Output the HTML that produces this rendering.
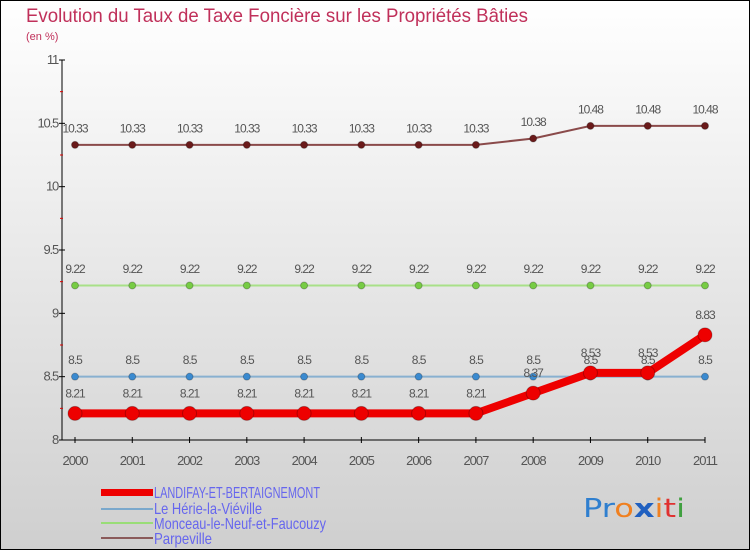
<!DOCTYPE html>
<html><head><meta charset="utf-8"><style>
html,body{margin:0;padding:0}
body{width:750px;height:550px;overflow:hidden;font-family:"Liberation Sans",sans-serif}
</style></head><body>
<svg id="chart" width="750" height="550" xmlns="http://www.w3.org/2000/svg" font-family="Liberation Sans, sans-serif">
<defs><linearGradient id="bg" x1="0" y1="0" x2="0" y2="1"><stop offset="0" stop-color="#ffffff"/><stop offset="1" stop-color="#cfcfcf"/></linearGradient></defs>
<rect x="0.5" y="0.5" width="749" height="549" fill="url(#bg)" stroke="#000"/>
<text x="26" y="22" font-size="19" fill="#c0305a" textLength="502" lengthAdjust="spacingAndGlyphs">Evolution du Taux de Taxe Foncière sur les Propriétés Bâties</text>
<text x="26" y="40" font-size="11" fill="#c0305a">(en %)</text>
<g id="axes"></g>
<g id="series"></g>
<g font-size="16" fill="#6666ee">
<rect x="101" y="489" width="52" height="7" fill="#ee0000"/>
<text x="154" y="498" textLength="166" lengthAdjust="spacingAndGlyphs">LANDIFAY-ET-BERTAIGNEMONT</text>
<line x1="101" y1="509" x2="153" y2="509" stroke="#7aa8cc" stroke-width="2"/>
<text x="154" y="514" textLength="108" lengthAdjust="spacingAndGlyphs">Le Hérie-la-Viéville</text>
<line x1="101" y1="523" x2="153" y2="523" stroke="#99dd77" stroke-width="2"/>
<text x="154" y="529" textLength="172" lengthAdjust="spacingAndGlyphs">Monceau-le-Neuf-et-Faucouzy</text>
<line x1="101" y1="538" x2="153" y2="538" stroke="#8a5a5a" stroke-width="2"/>
<text x="154" y="544" textLength="58" lengthAdjust="spacingAndGlyphs">Parpeville</text>
</g>
<g font-size="26" font-family="DejaVu Sans, sans-serif">
<text x="583" y="517" textLength="102" lengthAdjust="spacingAndGlyphs"><tspan fill="#2f7fcf">Pr</tspan><tspan fill="#f08020">o</tspan><tspan fill="#2060c0" font-weight="bold">x</tspan><tspan fill="#f08020">i</tspan><tspan fill="#e03030">t</tspan><tspan fill="#40a040">i</tspan></text>
</g>
</svg>
<script>
const years=["2000","2001","2002","2003","2004","2005","2006","2007","2008","2009","2010","2011"];
const yTicks=[8,8.5,9,9.5,10,10.5,11];
const yTickLabels=["8","8.5","9","9.5","10","10.5","11"];
const landifay=[8.21,8.21,8.21,8.21,8.21,8.21,8.21,8.21,8.37,8.53,8.53,8.83];
const herie=[8.5,8.5,8.5,8.5,8.5,8.5,8.5,8.5,8.5,8.5,8.5,8.5];
const monceau=[9.22,9.22,9.22,9.22,9.22,9.22,9.22,9.22,9.22,9.22,9.22,9.22];
const parpeville=[10.33,10.33,10.33,10.33,10.33,10.33,10.33,10.33,10.38,10.48,10.48,10.48];
const NS="http://www.w3.org/2000/svg";
function X(i){return 75+i*(630/11);}
function Y(v){return 440-(v-8)*(380/3);}
function mk(tag,attrs,parent,text){const e=document.createElementNS(NS,tag);for(const k in attrs)e.setAttribute(k,attrs[k]);if(text!==undefined)e.textContent=text;parent.appendChild(e);return e;}
const ax=document.getElementById('axes');
let l=mk('line',{x1:62,y1:60,x2:62,y2:440,stroke:'#000'},ax);


l=mk('line',{x1:62,y1:440,x2:705,y2:440,stroke:'#000'},ax);


yTicks.forEach((v,i)=>{
 const y=Y(v);
 mk('line',{x1:59,y1:y,x2:65,y2:y,stroke:'#000'},ax);
 if(i<yTicks.length-1) mk('line',{x1:60,y1:Y(v+0.25),x2:63,y2:Y(v+0.25),stroke:'#d00'},ax);
 const t=mk('text',{x:58,y:y+4,'font-size':13,'text-anchor':'end',fill:'#555','letter-spacing':'-1.2'},ax,yTickLabels[i]);
 
 
});
years.forEach((yr,i)=>{
 mk('line',{x1:X(i),y1:437,x2:X(i),y2:443,stroke:'#000'},ax);
 const t=mk('text',{x:X(i),y:465,'font-size':13,'text-anchor':'middle',fill:'#555','letter-spacing':'-1'},ax,yr);
 
 
});
const sg=document.getElementById('series');
function series(name,data,color,width,r,ptFill){
 const g=mk('g',{},sg);
 
 
 const pts=data.map((v,i)=>X(i)+','+Y(v)).join(' ');
 const pl=mk('polyline',{points:pts,fill:'none',stroke:color,'stroke-width':width,'stroke-linejoin':'round'},g);
 
 
 data.forEach((v,i)=>{
  const c=mk('circle',{cx:X(i),cy:Y(v),r:r,fill:ptFill,stroke:'rgba(0,0,0,0.25)','stroke-width':1},g);
  
  
  const t=mk('text',{x:X(i),y:Y(v)-(r+9),'font-size':12,'text-anchor':'middle',fill:'#555','letter-spacing':'-1'},g,String(v));
  
  
 });
}
series('parpeville',parpeville,'#8a4a4a',2,3.5,'#6a1a1a');
series('monceau',monceau,'#a8e088',2,3.5,'#77cc44');
series('herie',herie,'#88b0d0',2,3.5,'#3a8ad0');
series('landifay',landifay,'#ee0000',8,7,'#ee0000');
</script>
</body></html>
